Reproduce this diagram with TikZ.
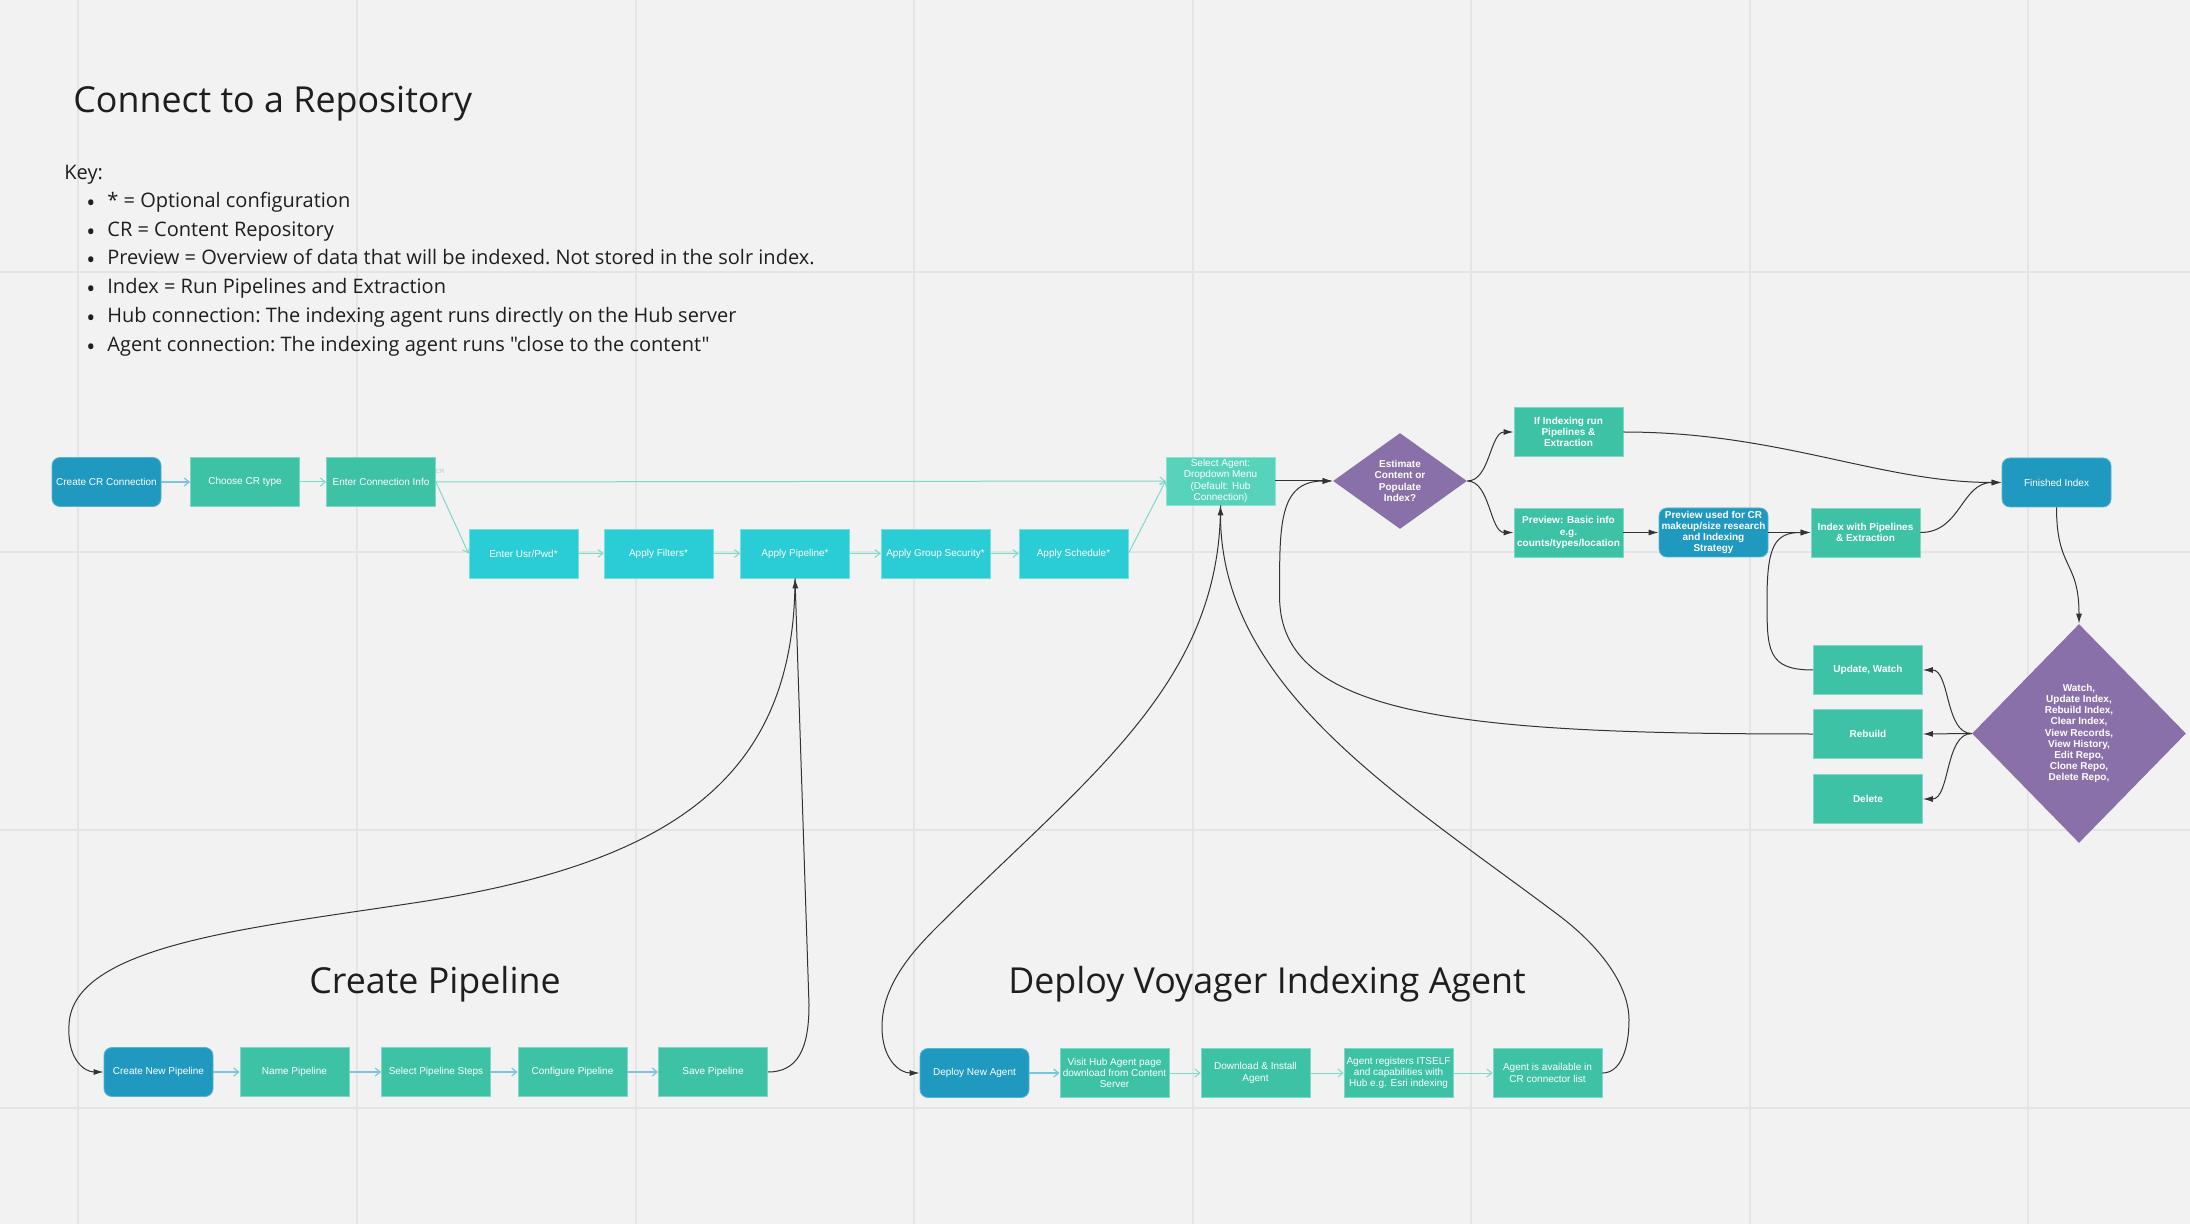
\documentclass[tikz,border=0pt]{standalone}
\usepackage{fontspec}
\setmainfont{Liberation Sans}
\newfontfamily\osans{Open Sans}
\usetikzlibrary{shapes.geometric,arrows.meta}
\definecolor{bg}{HTML}{F2F2F2}
\definecolor{gridc}{HTML}{E4E4E4}
\definecolor{cblue}{HTML}{2099C0}
\definecolor{cgreen}{HTML}{3DC2A5}
\definecolor{ccyan}{HTML}{2ACCD5}
\definecolor{cmint}{HTML}{57D3BC}
\definecolor{cpurple}{HTML}{8A70A8}
\definecolor{lteal}{HTML}{7DD9C8}
\definecolor{lblue}{HTML}{7EC2DD}
\definecolor{dline}{HTML}{333333}
\definecolor{ink}{HTML}{1E1E1E}
\tikzset{
  box/.style={rectangle, minimum width=54.5pt, minimum height=24.5pt, inner sep=0pt, align=center,
    text=white, font=\fontsize{5}{5.6}\selectfont, line width=0.4pt},
  gbox/.style={box, fill=cgreen, draw=cgreen!65!white},
  cbox/.style={box, fill=ccyan, draw=ccyan!65!white},
  mbox/.style={box, fill=cmint, draw=cmint!65!white},
  bbox/.style={box, fill=cblue, draw=cblue!75!white, rounded corners=4pt},
  bt/.style={font=\bfseries\fontsize{5}{5.6}\selectfont},
  dia/.style={diamond, fill=cpurple, text=white, inner sep=0pt, align=center,
    font=\bfseries\fontsize{5}{5.6}\selectfont},
  tarr/.style={draw=lteal, line width=0.5pt, -{Straight Barb[length=2.5pt,width=4pt]}},
  barr/.style={draw=lblue, line width=0.6pt, -{Straight Barb[length=2.5pt,width=4pt]}},
  karr/.style={draw=dline, line width=0.5pt, -{Latex[length=5pt,width=3pt]}},
  keyf/.style={font=\osans\frenchspacing\fontsize{10}{12}\selectfont, text=ink, inner sep=0pt, anchor=base west},
  bulf/.style={font=\osans\fontsize{12}{12}\selectfont, text=ink, inner sep=0pt, anchor=base west},
  titlef/.style={font=\osans\fontsize{17.9}{20}\selectfont, text=ink, inner sep=0pt},
}
\begin{document}
\begin{tikzpicture}[x=0.5pt,y=-0.5pt]
\useasboundingbox (0,0) rectangle (2190,1224);
\fill[bg] (0,0) rectangle (2190,1224);
\foreach \gx in {78,357,636,914,1193,1471,1750,2028}
  \draw[gridc, line width=1pt] (\gx,0) -- (\gx,1224);
\foreach \gy in {272,552,830,1108}
  \draw[gridc, line width=1pt] (0,\gy) -- (2190,\gy);

% titles and key
\node[titlef, anchor=base west] (t1) at (73,113) {Connect to a Repository};
\node[keyf] (key) at (64,180) {Key:};
\node[bulf] (b1) at (86,212) {•};
\node[keyf] (k1) at (107,208) {* = Optional configuration};
\node[bulf] (b2) at (86,241) {•};
\node[keyf] (k2) at (107,237) {CR = Content Repository};
\node[bulf] (b3) at (86,269) {•};
\node[keyf] (k3) at (107,265) {Preview = Overview of data that will be indexed. Not stored in the solr index.};
\node[bulf] (b4) at (86,298) {•};
\node[keyf] (k4) at (107,294) {Index = Run Pipelines and Extraction};
\node[bulf] (b5) at (86,327) {•};
\node[keyf] (k5) at (107,323) {Hub connection: The indexing agent runs directly on the Hub server};
\node[bulf] (b6) at (86,356) {•};
\node[keyf] (k6) at (107,352) {Agent connection: The indexing agent runs "close to the content"};
\node[titlef, anchor=base] (t2) at (435,993) {Create Pipeline};
\node[titlef, anchor=base] (t3) at (1267,993) {Deploy Voyager Indexing Agent};

% top row
\node[bbox] (ccr) at (106.5,482) {Create CR Connection};
\node[gbox] (cct) at (245,482) {Choose CR type};
\node[gbox] (eci) at (381,482) {Enter Connection Info};
\node[font=\fontsize{3}{3}\selectfont, text=black!25, inner sep=0pt] (crl) at (440,471) {CR};
\node[cbox] (eup) at (523.5,553.5) {Enter Usr/Pwd*};
\node[cbox] (af) at (658.5,553.5) {Apply Filters*};
\node[cbox] (ap) at (795,553.5) {Apply Pipeline*};
\node[cbox] (ags) at (935.5,553.5) {Apply Group Security*};
\node[cbox] (as) at (1073.5,553.5) {Apply Schedule*};
\node[mbox, minimum height=24pt] (sa) at (1220.5,481) {Select Agent:\\Dropdown Menu\\(Default: Hub\\Connection)};
\node[dia, minimum width=67pt, minimum height=48pt] (est) at (1400,481) {Estimate\\Content or\\Populate\\Index?};

% right part
\node[gbox, bt] (iir) at (1568.5,432) {If Indexing run\\Pipelines \&\\Extraction};
\node[gbox, bt] (pbi) at (1568.5,532.5) {Preview: Basic info\\e.g.\\counts/types/location};
\node[bbox, bt] (pu) at (1713.5,532.5) {Preview used for CR\\makeup/size research\\and Indexing\\Strategy};
\node[gbox, bt] (iwp) at (1865.5,532.5) {Index with Pipelines\\\& Extraction};
\node[bbox] (fi) at (2056.5,482.5) {Finished Index};
\node[gbox, bt] (uw) at (1868,670) {Update, Watch};
\node[gbox, bt] (reb) at (1868,734) {Rebuild};
\node[gbox, bt] (del) at (1868,799) {Delete};
\node[dia, minimum width=107pt, minimum height=109.5pt] (bd) at (2079,733.5)
  {Watch,\\Update Index,\\Rebuild Index,\\Clear Index,\\View Records,\\View History,\\Edit Repo,\\Clone Repo,\\Delete Repo,};

% bottom rows
\node[bbox] (cnp) at (158.5,1072) {Create New Pipeline};
\node[gbox] (np) at (294.5,1072) {Name Pipeline};
\node[gbox] (sps) at (436,1072) {Select Pipeline Steps};
\node[gbox] (cp) at (572.5,1072) {Configure Pipeline};
\node[gbox] (sp) at (713,1072) {Save Pipeline};
\node[bbox] (dna) at (974.5,1073) {Deploy New Agent};
\node[gbox] (vh) at (1114.5,1073) {Visit Hub Agent page\\download from Content\\Server};
\node[gbox] (di) at (1255.5,1073) {Download \& Install\\Agent};
\node[gbox] (ar) at (1398.5,1073) {Agent registers ITSELF\\and capabilities with\\Hub e.g. Esri indexing};
\node[gbox] (aa) at (1547.5,1073) {Agent is available in\\CR connector list};

% light connectors
\draw[barr] (ccr.east) -- (cct.west);
\draw[tarr] (cct.east) -- (eci.west);
\draw[tarr] (eci.east) -- (sa.west);
\draw[tarr] (eci.east) -- (eup.west);
\draw[tarr] (eup.east) -- (af.west);
\draw[tarr] (af.east) -- (ap.west);
\draw[tarr] (ap.east) -- (ags.west);
\draw[tarr] (ags.east) -- (as.west);
\draw[tarr] (as.east) -- (sa.west);
\draw[barr] (cnp.east) -- (np.west);
\draw[barr] (np.east) -- (sps.west);
\draw[barr] (sps.east) -- (cp.west);
\draw[barr] (cp.east) -- (sp.west);
\draw[barr] (dna.east) -- (vh.west);
\draw[tarr] (vh.east) -- (di.west);
\draw[tarr] (di.east) -- (ar.west);
\draw[tarr] (ar.east) -- (aa.west);

% dark connectors
\draw[karr] (sa.east) -- (est.west);
\draw[karr] (est.east) .. controls (1490,481) and (1490,432) .. (iir.west);
\draw[karr] (est.east) .. controls (1490,481) and (1490,532.5) .. (pbi.west);
\draw[karr] (pbi.east) -- (pu.west);
\draw[karr] (pu.east) -- (iwp.west);
\draw[karr] (iwp.east) .. controls (1961,532.5) and (1961,482.5) .. (fi.west);
\draw[karr] (iir.east) .. controls (1780,432) and (1880,482.5) .. (fi.west);
\draw[karr] (fi.south) .. controls (2056.5,570) and (2079,560) .. (bd.north);
\draw[karr] (bd.west) .. controls (1945,733.5) and (1950,670) .. (uw.east);
\draw[karr] (bd.west) -- (reb.east);
\draw[karr] (bd.west) .. controls (1945,733.5) and (1950,799) .. (del.east);
\draw[karr] (uw.west) .. controls (1767,670) and (1767,650) .. (1767,600)
  .. controls (1767,545) and (1775,532.5) .. (iwp.west);
\draw[karr] (reb.west) .. controls (1463,734) and (1279.6,717) .. (1279.6,597)
  .. controls (1279.6,527) and (1278,481) .. (est.west);
\draw[karr] (ap.south) .. controls (795,779) and (670,863) .. (420,902)
  .. controls (250,928) and (72,945) .. (69,1025)
  .. controls (67,1060) and (85,1072) .. (cnp.west);
\draw[karr] (sp.east) .. controls (797,1072) and (809,1050) .. (809,1005) -- (ap.south);
\draw[karr] (sa.south) .. controls (1220.5,685) and (1085,779) .. (935,929)
  .. controls (905,959) and (882,990) .. (882,1027)
  .. controls (882,1060) and (900,1073) .. (dna.west);
\draw[karr] (aa.east) .. controls (1620,1073) and (1629,1050) .. (1629,1020)
  .. controls (1629,985) and (1600,946) .. (1557,914)
  .. controls (1397,794) and (1220.5,687) .. (sa.south);
\end{tikzpicture}
\end{document}
